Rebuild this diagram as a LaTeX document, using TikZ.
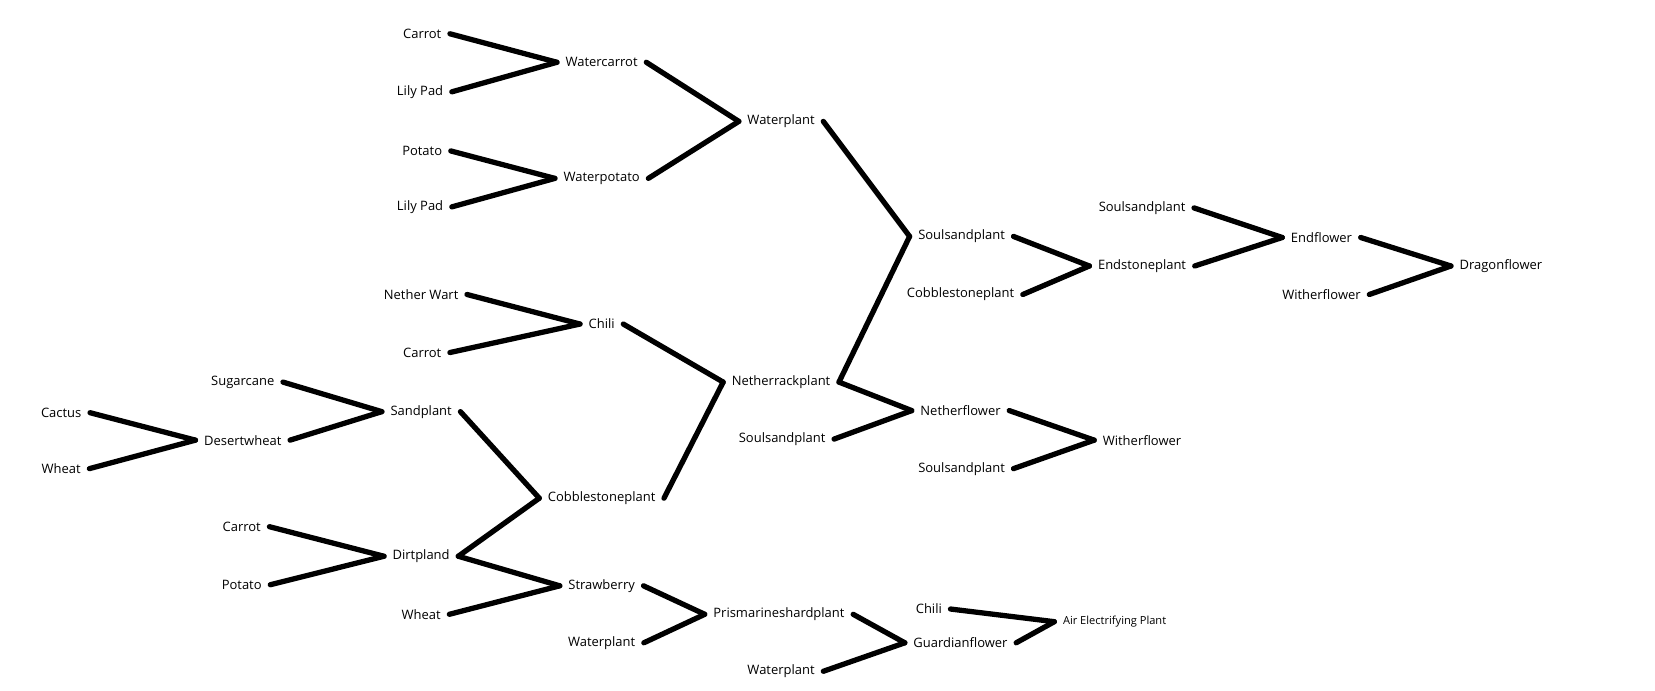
\documentclass[tikz,border=0pt]{standalone}
\usepackage{fontspec}
\setmainfont{Open Sans}

\begin{document}
\begin{tikzpicture}[x=1pt,y=-1pt,
    plant/.style={inner xsep=8pt, inner ysep=2pt, font=\fontsize{12.3}{14}\selectfont},
    link/.style={line width=5pt, line cap=round}]
    \useasboundingbox (0,0) rectangle (1568,654);
    % water branch
    \node[plant] (carrotA) at (400,32) {Carrot};
    \node[plant] (lilyA) at (398,87) {Lily Pad};
    \node[plant] (watercarrot) at (570,59) {Watercarrot};
    \node[plant] (potatoA) at (400,143) {Potato};
    \node[plant] (lilyB) at (398,196) {Lily Pad};
    \node[plant] (waterpotato) at (570,169) {Waterpotato};
    \node[plant] (waterplantA) at (740,115) {Waterplant};
    % nether branch
    \node[plant] (netherwart) at (399,279) {Nether Wart};
    \node[plant] (carrotB) at (400,334) {Carrot};
    \node[plant] (chiliA) at (570,307) {Chili};
    \node[plant] (netherrack) at (740,362) {Netherrackplant};
    % sand and dirt
    \node[plant] (sugarcane) at (230,362) {Sugarcane};
    \node[plant] (cactus) at (58,391) {Cactus};
    \node[plant] (wheatA) at (58,444) {Wheat};
    \node[plant] (desertwheat) at (230,417) {Desertwheat};
    \node[plant] (sandplant) at (399,390) {Sandplant};
    \node[plant] (cobbleL) at (570,472) {Cobblestoneplant};
    \node[plant] (carrotC) at (229,499) {Carrot};
    \node[plant] (potatoB) at (229,554) {Potato};
    \node[plant] (dirtpland) at (399,527) {Dirtpland};
    \node[plant] (wheatB) at (399,582) {Wheat};
    \node[plant] (strawberry) at (570,555) {Strawberry};
    \node[plant] (waterplantB) at (570,609) {Waterplant};
    \node[plant] (prismarine) at (738,582) {Prismarineshardplant};
    \node[plant] (waterplantC) at (740,636) {Waterplant};
    \node[plant] (chiliB) at (880,577) {Chili};
    \node[plant] (guardian) at (910,609) {Guardianflower};
    \node[plant, font=\fontsize{10.5}{12}\selectfont] (airplant) at (1056,589) {Air Electrifying Plant};
    % end branch
    \node[plant] (soulsandA) at (911,224) {Soulsandplant};
    \node[plant] (cobbleR) at (910,279) {Cobblestoneplant};
    \node[plant] (soulsandB) at (1082,197) {Soulsandplant};
    \node[plant] (endstone) at (1082,252) {Endstoneplant};
    \node[plant] (endflower) at (1252,225) {Endflower};
    \node[plant] (witherA) at (1252,279) {Witherflower};
    \node[plant] (dragon) at (1422,252) {Dragonflower};
    \node[plant] (soulsandC) at (741,416) {Soulsandplant};
    \node[plant] (netherflower) at (910,389) {Netherflower};
    \node[plant] (soulsandD) at (911,444) {Soulsandplant};
    \node[plant] (witherB) at (1082,417) {Witherflower};

    \draw[link] (carrotA.east) -- (watercarrot.west);
    \draw[link] (lilyA.east) -- (watercarrot.west);
    \draw[link] (potatoA.east) -- (waterpotato.west);
    \draw[link] (lilyB.east) -- (waterpotato.west);
    \draw[link] (watercarrot.east) -- (waterplantA.west);
    \draw[link] (waterpotato.east) -- (waterplantA.west);
    \draw[link] (waterplantA.east) -- (soulsandA.west);
    \draw[link] (netherrack.east) -- (soulsandA.west);
    \draw[link] (soulsandA.east) -- (endstone.west);
    \draw[link] (cobbleR.east) -- (endstone.west);
    \draw[link] (soulsandB.east) -- (endflower.west);
    \draw[link] (endstone.east) -- (endflower.west);
    \draw[link] (endflower.east) -- (dragon.west);
    \draw[link] (witherA.east) -- (dragon.west);
    \draw[link] (netherwart.east) -- (chiliA.west);
    \draw[link] (carrotB.east) -- (chiliA.west);
    \draw[link] (chiliA.east) -- (netherrack.west);
    \draw[link] (cobbleL.east) -- (netherrack.west);
    \draw[link] (netherrack.east) -- (netherflower.west);
    \draw[link] (soulsandC.east) -- (netherflower.west);
    \draw[link] (netherflower.east) -- (witherB.west);
    \draw[link] (soulsandD.east) -- (witherB.west);
    \draw[link] (cactus.east) -- (desertwheat.west);
    \draw[link] (wheatA.east) -- (desertwheat.west);
    \draw[link] (sugarcane.east) -- (sandplant.west);
    \draw[link] (desertwheat.east) -- (sandplant.west);
    \draw[link] (sandplant.east) -- (cobbleL.west);
    \draw[link] (dirtpland.east) -- (cobbleL.west);
    \draw[link] (carrotC.east) -- (dirtpland.west);
    \draw[link] (potatoB.east) -- (dirtpland.west);
    \draw[link] (dirtpland.east) -- (strawberry.west);
    \draw[link] (wheatB.east) -- (strawberry.west);
    \draw[link] (strawberry.east) -- (prismarine.west);
    \draw[link] (waterplantB.east) -- (prismarine.west);
    \draw[link] (prismarine.east) -- (guardian.west);
    \draw[link] (waterplantC.east) -- (guardian.west);
    \draw[link] (chiliB.east) -- (airplant.west);
    \draw[link] (guardian.east) -- (airplant.west);
\end{tikzpicture}
\end{document}
